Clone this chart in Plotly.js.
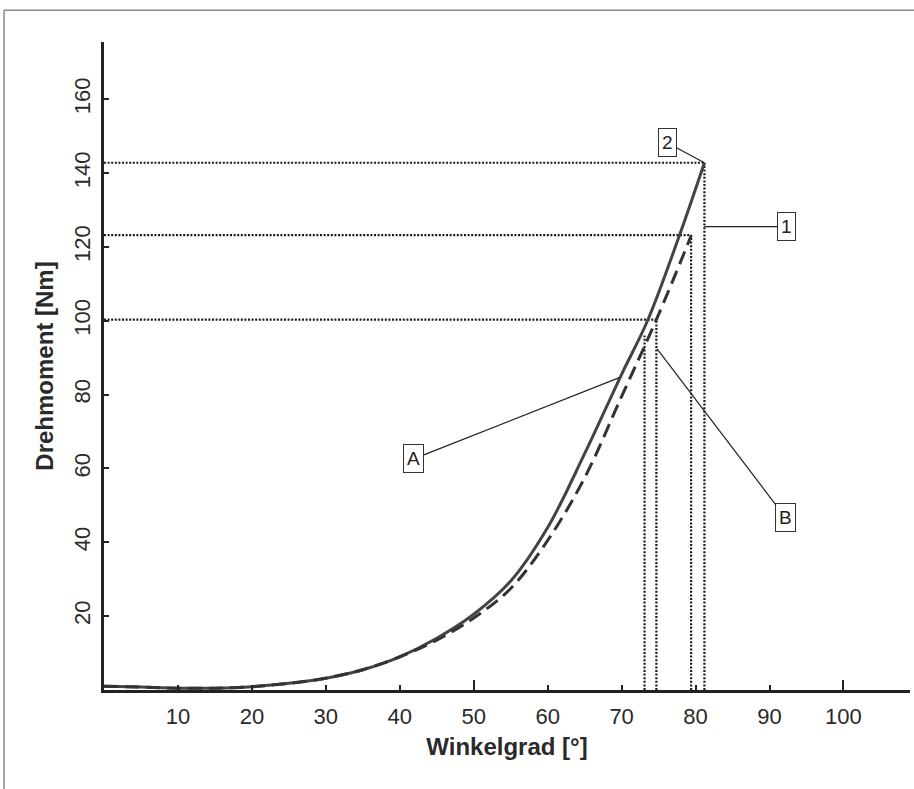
<!DOCTYPE html>
<html>
<head>
<meta charset="utf-8">
<script src="https://cdn.plot.ly/plotly-3.0.1.min.js"></script>
<style>html,body{margin:0;padding:0;background:#fff;}#chart{width:914px;height:789px;}</style>
</head>
<body>
<div id="chart"></div>
<script>
// Curve A (solid)
const angleA  = [0, 5, 10, 15, 20, 25, 30, 35, 40, 45, 50, 55, 60, 65, 70, 73.5, 77.8, 81.2];
const torqueA = [1, 0.8, 0.5, 0.5, 0.9, 1.8, 3.2, 5.5, 9, 14, 20.5, 29.5, 44, 64, 85.5, 100, 123, 142.8];
// Curve B (dashed)
const angleB  = [0, 5, 10, 15, 20, 25, 30, 35, 40, 45, 50, 55, 60, 65, 70, 74.7, 79.4];
const torqueB = [1, 0.8, 0.5, 0.5, 0.9, 1.8, 3.2, 5.5, 9, 13.5, 19.5, 27.5, 40.5, 57.5, 79.5, 100.3, 123];
// Reference (dotted) lines: end angle and torque levels
const refAngle  = [81.2, 79.4, 74.7, 73.1];
const refTorque = [142.8, 123.2, 100.3, 96];
const hLines = [0, 1, 2];       // horizontal lines drawn for these refs
// Callout labels
const labelText = ['2', '1', 'A', 'B'];
const labelX = [76.2, 92.3, 41.9, 92.2];
const labelY = [148.2, 125.5, 62.6, 46.6];
const targetX = [81.2, 81.2, 69.7, 74.8];
const targetY = [142.8, 125.5, 84.6, 92.4];
// Axis ticks
const xTicks = [10, 20, 30, 40, 50, 60, 70, 80, 90, 100];
const xLongTicks = [50, 100];
const yTicks = [20, 40, 60, 80, 100, 120, 140, 160];
const xRange = [0, 109];
const yRange = [0, 175.5];

const dotDash = '2px,1.6px';
const traces = [];
hLines.forEach(i => {
  traces.push({x: [0, refAngle[i]], y: [refTorque[i], refTorque[i]], mode: 'lines',
    line: {color: '#1a1a1a', width: 2.2, dash: dotDash}, hoverinfo: 'skip', showlegend: false});
});
refAngle.forEach((a, i) => {
  traces.push({x: [a, a], y: [0, refTorque[i]], mode: 'lines',
    line: {color: '#1a1a1a', width: 2.2, dash: dotDash}, hoverinfo: 'skip', showlegend: false});
});
traces.push({x: angleB, y: torqueB, mode: 'lines', xaxis: 'x2', line: {color: '#333', width: 3, dash: '14px,7px', shape: 'spline', smoothing: 1}, showlegend: false});
traces.push({x: angleA, y: torqueA, mode: 'lines', line: {color: '#444', width: 3, shape: 'spline', smoothing: 1}, showlegend: false});

const tickFont = {family: 'Arial, Liberation Sans, Helvetica, sans-serif', size: 22, color: '#2a2a2a'};
const titleFont = {family: 'Arial, Liberation Sans, Helvetica, sans-serif', size: 24, color: '#2a2a2a', weight: 'bold'};

const annotations = labelText.map((t, i) => ({
  x: targetX[i], y: targetY[i], ax: labelX[i], ay: labelY[i], axref: 'x', ayref: 'y',
  text: t, showarrow: true, arrowhead: 0, arrowwidth: 1.2, arrowcolor: '#222',
  bordercolor: '#333', borderwidth: 1, borderpad: 3, bgcolor: '#fff',
  font: {family: 'Arial, Liberation Sans, Helvetica, sans-serif', size: 19, color: '#222'}
}));

const layout = {
  width: 914, height: 789,
  margin: {l: 104, r: 4, t: 42, b: 99},
  paper_bgcolor: '#fff', plot_bgcolor: '#fff',
  showlegend: false,
  xaxis: {
    range: xRange, tickvals: xTicks, ticktext: xTicks.map(String),
    ticks: 'inside', ticklen: 5, tickwidth: 2, tickcolor: '#222',
    showline: true, linewidth: 3, linecolor: '#222', showgrid: false, zeroline: false,
    tickfont: tickFont, ticklabelstandoff: 5,
    title: {text: 'Winkelgrad [°]', font: titleFont, standoff: 10}
  },
  xaxis2: {
    range: xRange, overlaying: 'x', side: 'bottom', tickvals: xLongTicks,
    ticks: 'inside', ticklen: 10, tickwidth: 2, tickcolor: '#222',
    showticklabels: false, showline: false, showgrid: false, zeroline: false
  },
  yaxis: {
    range: yRange, tickvals: yTicks, ticktext: yTicks.map(String), tickangle: -90,
    ticks: 'inside', ticklen: 5, tickwidth: 2, tickcolor: '#222',
    showline: true, linewidth: 3, linecolor: '#222', showgrid: false, zeroline: false,
    tickfont: tickFont, ticklabelstandoff: 2,
    title: {text: 'Drehmoment [Nm]', font: titleFont, standoff: 10}
  },
  annotations: annotations,
  shapes: [
    {type: 'line', xref: 'paper', yref: 'paper', x0: -0.124, x1: 1.01, y0: 1.049, y1: 1.049, line: {color: '#888', width: 1.5}},
    {type: 'line', xref: 'paper', yref: 'paper', x0: -0.124, x1: -0.124, y0: 1.049, y1: -0.16, line: {color: '#888', width: 1.5}}
  ]
};

Plotly.newPlot('chart', traces, layout, {displayModeBar: false, staticPlot: true});
</script>
</body>
</html>
